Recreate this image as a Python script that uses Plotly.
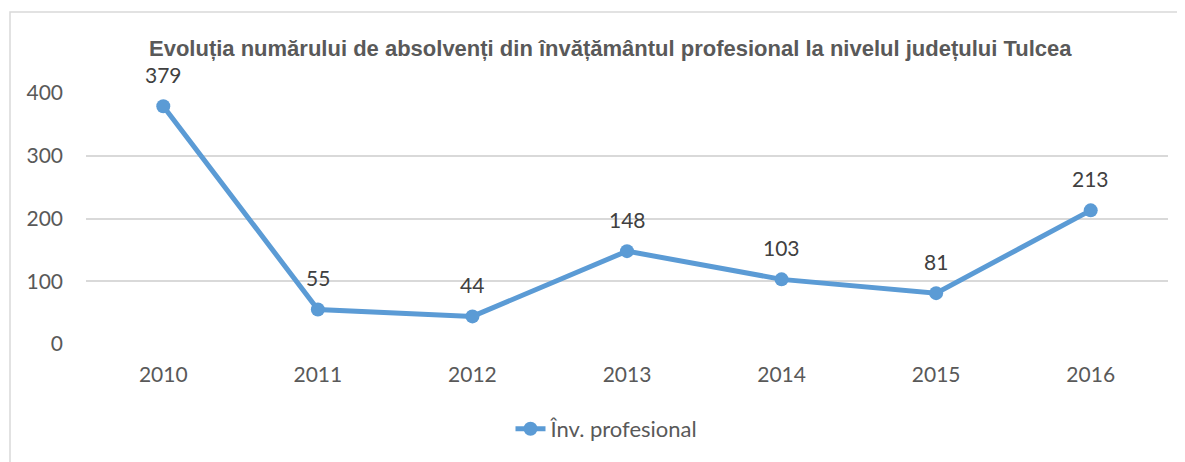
import plotly.graph_objects as go

years = ["2010", "2011", "2012", "2013", "2014", "2015", "2016"]
values = [379, 55, 44, 148, 103, 81, 213]
series_name = "Înv. profesional"
title_text = "Evoluția numărului de absolvenți din învățământul profesional la nivelul județului Tulcea"
fig_label = "Fig. 6.3.4.2"
y_ticks = [0, 100, 200, 300, 400]

OFF = 8  # page body margin
W, H = 1185 - OFF, 462 - OFF
L, R, T, B = 86 - OFF, 1168 - OFF, 93 - OFF, 347 - OFF
pw, ph = R - L, B - T

def px(x):
    return (x - OFF - L) / pw

def py(y):
    return (B - (y - OFF)) / ph

blue = "#5B9BD5"
grey = "#595959"
body_font = "Lato, Noto Sans, sans-serif"

fig = go.Figure()
fig.add_trace(go.Scatter(
    x=years, y=values, mode="lines+markers", name=series_name,
    line=dict(color=blue, width=5),
    marker=dict(color=blue, size=14),
    cliponaxis=False,
))

# data labels: category index on the x axis, value on the y axis
label_annotations = [
    dict(x=i, y=v, xref="x", yref="y", text=str(v), showarrow=False,
         yshift=32, xanchor="center", yanchor="middle",
         font=dict(family=body_font, size=21, color="#404040"))
    for i, v in enumerate(values)
]

fig.update_layout(
    width=W, height=H,
    margin=dict(l=L, r=W - R, t=T, b=H - B),
    paper_bgcolor="white", plot_bgcolor="white",
    showlegend=True,
    legend=dict(orientation="h", x=px(607), xanchor="center", y=py(433), yanchor="middle",
                font=dict(family=body_font, size=22, color=grey)),
    xaxis=dict(type="category", range=[-0.5, 6.5], showgrid=False, showline=False,
               ticks="", ticklabelstandoff=16,
               tickfont=dict(family=body_font, size=21, color=grey)),
    yaxis=dict(range=[0, 400], tickvals=y_ticks, showgrid=True, gridcolor="#D9D9D9",
               gridwidth=1.5, zeroline=False, showline=False, ticks="",
               ticklabelstandoff=22,
               tickfont=dict(family=body_font, size=21, color=grey)),
    shapes=[dict(type="rect", xref="paper", yref="paper",
                 x0=px(10), x1=px(1200), y0=py(480), y1=py(11),
                 line=dict(color="#D9D9D9", width=1.5), fillcolor="rgba(0,0,0,0)",
                 layer="below")],
    annotations=label_annotations + [
        dict(text="<b>" + title_text + "</b>", xref="paper", yref="paper",
             x=px(610), y=py(48), xanchor="center", yanchor="middle", showarrow=False,
             font=dict(family="Liberation Sans, Arial, sans-serif", size=22, color=grey)),
        dict(text="<b>" + fig_label + "</b>", xref="paper", yref="paper",
             x=px(0), y=py(9), xanchor="left", yanchor="bottom", showarrow=False,
             font=dict(family="Liberation Sans, Arial, sans-serif", size=22, color="black")),
    ],
)

fig.write_html("out.html")
